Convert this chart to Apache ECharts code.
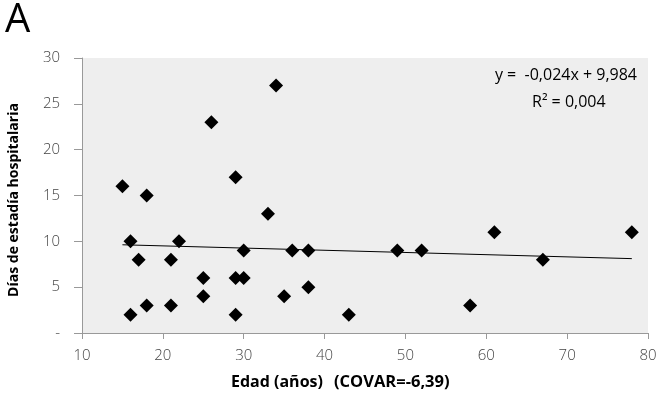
<!DOCTYPE html>
<html>
<head>
<meta charset="utf-8">
<script src="https://cdn.jsdelivr.net/npm/echarts@6/dist/echarts.min.js"></script>
<style>html,body{margin:0;padding:0;background:#fff;}#c{width:663px;height:397px;}</style>
</head>
<body>
<div id="c"></div>
<script>
var edad = [15,16,16,17,18,18,21,21,22,25,25,26,29,29,29,30,30,33,34,35,36,38,38,43,49,52,58,61,67,78];
var dias = [16,10,2,8,15,3,8,3,10,6,4,23,17,6,2,9,6,13,27,4,9,9,5,2,9,9,3,11,8,11];
var trendX = [15,78];
var trendY = [9.624,8.112];
var xTicks = [10,20,30,40,50,60,70,80];
var yTicks = ['-','5','10','15','20','25','30'];

var pts = edad.map(function(x,i){return [x,dias[i]];});
var trend = trendX.map(function(x,i){return [x,trendY[i]];});

var chart = echarts.init(document.getElementById('c'));
var labFont = {fontFamily:'Open Sans', fontSize:15, color:'#444', fontWeight:300};
chart.setOption({
  animation:false,
  backgroundColor:'#fff',
  grid:{left:82,right:15,top:58,bottom:64,show:true,backgroundColor:'#eeeeee',borderWidth:0},
  xAxis:{type:'value',min:10,max:80,interval:10,
    axisLine:{show:true,onZero:false,lineStyle:{color:'#999',width:1}},
    axisTick:{show:true,length:6,lineStyle:{color:'#999'}},
    splitLine:{show:false},
    axisLabel:Object.assign({margin:15,formatter:function(v){return xTicks.indexOf(v)>=0?String(v):'';}},labFont)},
  yAxis:{type:'value',min:0,max:30,interval:5,
    axisLine:{show:true,lineStyle:{color:'#999',width:1}},
    axisTick:{show:true,length:8,lineStyle:{color:'#999'}},
    splitLine:{show:false},
    axisLabel:Object.assign({margin:22,formatter:function(v){return yTicks[v/5];}},labFont)},
  series:[
    {type:'line',data:trend,symbol:'none',lineStyle:{color:'#000',width:1},z:1},
    {type:'scatter',data:pts,symbol:'diamond',symbolSize:[14,14],itemStyle:{color:'#000',opacity:1},z:2}
  ],
  graphic:[
    {type:'text',left:5,top:1,style:{text:'A',font:'40px "Open Sans"',fill:'#000'}},
    {type:'text',right:26,top:67,style:{text:'y =  -0,024x + 9,984',font:'16px "Open Sans"',fill:'#000'}},
    {type:'text',left:532,top:94,style:{text:'R² = 0,004',font:'16px "Open Sans"',fill:'#000'}},
    {type:'text',left:231,top:374,style:{text:'Edad (años)',font:'bold 16px "Open Sans"',fill:'#000'}},
    {type:'text',left:334,top:374,style:{text:'(COVAR=-6,39)',font:'bold 16.5px "Open Sans"',fill:'#000'}},
    {type:'text',x:14,y:200,rotation:Math.PI/2,style:{text:'Días de estadía hospitalaria',font:'bold 14px "Open Sans"',fill:'#000',align:'center',verticalAlign:'middle'}}
  ]
});
</script>
</body>
</html>
